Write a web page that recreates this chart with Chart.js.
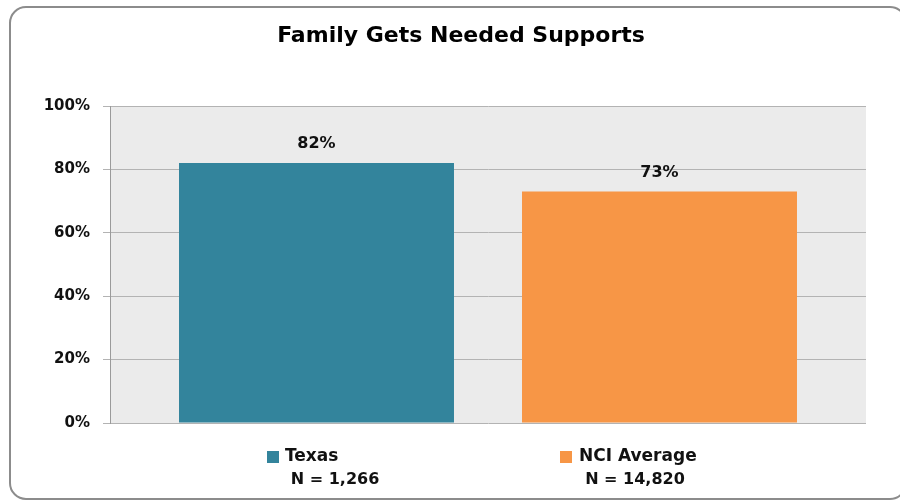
<!DOCTYPE html>
<html lang="en">
<head>
    <meta charset="UTF-8">
    <title>Family Gets Needed Supports</title>
    <script src="https://cdn.jsdelivr.net/npm/chart.js"></script>
    <style>
        html, body { margin: 0; padding: 0; background: #fff; }
        #wrap { width: 900px; height: 501px; position: relative; }
    </style>
</head>
<body>
    <div id="wrap"><canvas id="supportsChart" width="900" height="501"></canvas></div>

    <script>
        // chart data
        const chartTitle = 'Family Gets Needed Supports';
        const groups = ['Texas', 'NCI Average'];
        const sampleSizes = ['N = 1,266', 'N = 14,820'];
        const percents = [82, 73];
        const barColors = ['#33849c', '#f79646'];
        const yTicks = [0, 20, 40, 60, 80, 100];

        const FONT = '"DejaVu Sans", "Open Sans", sans-serif';

        // frame, plot background and title
        const backdrop = {
            id: 'backdrop',
            beforeDraw(chart) {
                const c = chart.ctx, a = chart.chartArea;
                c.save();
                c.fillStyle = '#ffffff';
                c.fillRect(0, 0, chart.width, chart.height);
                c.beginPath();
                c.roundRect(10, 7, 896, 492, 16);
                c.strokeStyle = '#8c8c8c';
                c.lineWidth = 2;
                c.stroke();
                c.fillStyle = '#ebebeb';
                c.fillRect(a.left, a.top, a.right - a.left, a.bottom - a.top);
                c.fillStyle = '#000';
                c.font = 'bold 22px ' + FONT;
                c.textAlign = 'center';
                c.textBaseline = 'middle';
                c.fillText(chartTitle, 461, 36);
                c.restore();
            }
        };

        // value labels above bars and the legend under the plot
        const labelsPlugin = {
            id: 'labelsPlugin',
            afterDatasetsDraw(chart) {
                const c = chart.ctx, a = chart.chartArea;
                c.save();
                c.fillStyle = '#111';
                c.font = 'bold 16px ' + FONT;
                c.textAlign = 'center';
                c.textBaseline = 'middle';
                chart.data.datasets.forEach((ds, i) => {
                    const el = chart.getDatasetMeta(i).data[0];
                    c.fillText(ds.data[0] + '%', el.x, el.y - 19);
                });

                // legend entries
                const spots = [
                    { sq: a.left + 157, txt: a.left + 175, n: a.left + 225 },
                    { sq: a.left + 450, txt: a.left + 469, n: a.left + 525 }
                ];
                groups.forEach((g, i) => {
                    const s = spots[i];
                    c.fillStyle = barColors[i];
                    c.fillRect(s.sq, 451, 12, 12);
                    c.fillStyle = '#111';
                    c.font = 'bold 17px ' + FONT;
                    c.textAlign = 'left';
                    c.fillText(g, s.txt, 457);
                    c.font = 'bold 16px ' + FONT;
                    c.textAlign = 'center';
                    c.fillText(sampleSizes[i], s.n, 480);
                });
                c.restore();
            }
        };

        const ctx = document.getElementById('supportsChart').getContext('2d');
        new Chart(ctx, {
            type: 'bar',
            data: {
                labels: [''],
                datasets: groups.map((g, i) => ({
                    label: g,
                    data: [percents[i]],
                    backgroundColor: barColors[i],
                    borderWidth: 0
                }))
            },
            options: {
                responsive: false,
                animation: false,
                categoryPercentage: 0.9074,
                barPercentage: 0.8017,
                layout: { padding: { top: 106, right: 34, bottom: 78, left: 0 } },
                plugins: {
                    legend: { display: false },
                    title: { display: false },
                    tooltip: { enabled: false }
                },
                scales: {
                    x: { display: false },
                    y: {
                        min: 0,
                        max: 100,
                        afterFit(scale) { scale.width = 110; },
                        afterBuildTicks(scale) { scale.ticks = yTicks.map(v => ({ value: v })); },
                        grid: { color: '#b3b3b3', lineWidth: 1, tickLength: 7, drawTicks: true },
                        border: { color: '#9a9a9a', width: 1 },
                        ticks: {
                            padding: 13,
                            color: '#111',
                            font: { family: FONT, size: 15, weight: 'bold' },
                            callback: v => v + '%'
                        }
                    }
                }
            },
            plugins: [backdrop, labelsPlugin]
        });
    </script>
</body>
</html>
